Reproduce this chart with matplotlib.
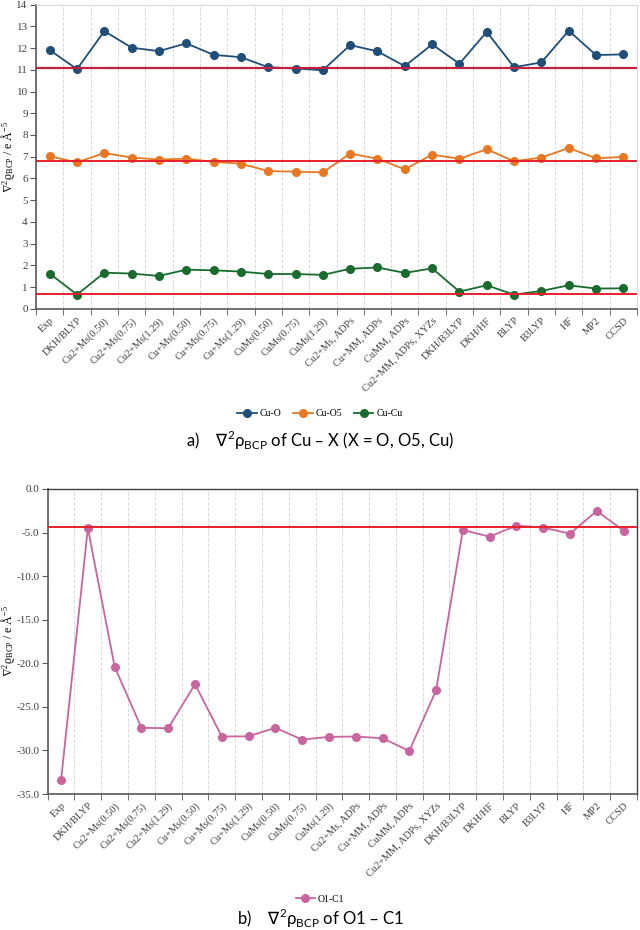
import numpy as np
import matplotlib.pyplot as plt

methods = ['Exp', 'DKH/BLYP', 'Cu2+Ms(0.50)', 'Cu2+Ms(0.75)', 'Cu2+Ms(1.29)',
           'Cu+Ms(0.50)', 'Cu+Ms(0.75)', 'Cu+Ms(1.29)', 'CuMs(0.50)', 'CuMs(0.75)',
           'CuMs(1.29)', 'Cu2+Ms, ADPs', 'Cu+MM, ADPs', 'CuMM, ADPs',
           'Cu2+MM, ADPs, XYZs', 'DKH/B3LYP', 'DKH/HF', 'BLYP', 'B3LYP', 'HF', 'MP2', 'CCSD']

cu_o = [11.91, 11.03, 12.78, 12.02, 11.86, 12.22, 11.69, 11.58, 11.12, 11.06, 10.98,
        12.14, 11.85, 11.17, 12.17, 11.28, 12.75, 11.12, 11.34, 12.80, 11.68, 11.71]
cu_o5 = [7.02, 6.74, 7.17, 6.96, 6.87, 6.91, 6.76, 6.68, 6.34, 6.31, 6.28,
         7.14, 6.91, 6.42, 7.09, 6.91, 7.34, 6.79, 6.96, 7.40, 6.93, 6.99]
cu_cu = [1.62, 0.65, 1.66, 1.62, 1.51, 1.80, 1.77, 1.71, 1.60, 1.60, 1.56,
         1.84, 1.90, 1.65, 1.86, 0.79, 1.08, 0.65, 0.82, 1.08, 0.93, 0.94]
o1_c1 = [-33.4, -4.5, -20.4, -27.4, -27.45, -22.4, -28.4, -28.38, -27.4, -28.75, -28.44,
         -28.4, -28.6, -30.05, -23.1, -4.7, -5.47, -4.2, -4.43, -5.12, -2.52, -4.78]

ref_top = [11.08, 6.80, 0.70]
ref_bottom = -4.36

blue = '#1f4e79'
orange = '#e87722'
green = '#1a6b2e'
pink = '#c8659f'
serif = ['Liberation Serif', 'DejaVu Serif']
sans = ['Lato', 'DejaVu Sans']
ylab = r'$\nabla^{\mathregular{2}}$ϱ$_{\mathregular{BCP}}$ / e Å$^{\mathregular{-5}}$'

fig = plt.figure(figsize=(6.4, 9.3), dpi=100)
x = np.arange(len(methods))


def style_axis(ax, ymin, ymax, step, fmt, box, labx):
    ax.set_xlim(-0.5, len(methods) - 0.5)
    ax.set_ylim(ymin, ymax)
    ax.set_yticks(np.arange(ymin, ymax + step / 2, step))
    ax.set_yticklabels([fmt % v for v in np.arange(ymin, ymax + step / 2, step)],
                       family=serif, fontsize=8, color='#404040')
    ax.set_xticks(x)
    ax.set_xticklabels(methods, rotation=45, ha='right', va='top',
                       rotation_mode='anchor', family=serif, fontsize=7.5, color='#404040')
    ax.set_xticks(np.arange(-0.5, len(methods)), minor=True)
    ax.tick_params(axis='x', which='major', length=0, pad=5)
    ax.tick_params(axis='x', which='minor', length=4, color='#595959', direction='out')
    ax.tick_params(axis='y', length=4, color='#595959', direction='out', pad=2)
    ax.grid(axis='x', which='minor', color='#d9d9d9', linestyle='--', linewidth=0.7)
    for s in ['left', 'bottom']:
        ax.spines[s].set_color('#595959')
        ax.spines[s].set_linewidth(1.2)
    for s in ['top', 'right']:
        ax.spines[s].set_color(box)
        ax.spines[s].set_linewidth(1.0 if box != '#d9d9d9' else 0.8)
    ax.set_ylabel(ylab, family=serif, fontsize=8.5, math_fontfamily='stix')
    ax.yaxis.set_label_coords(labx, 0.5)


# a) Cu - X
ax1 = fig.add_axes([0.0563, 0.668, 0.939, 0.327])
ax1.plot(x, cu_o, '-o', color=blue, lw=1.3, ms=5.5, label='Cu-O')
ax1.plot(x, cu_o5, '-o', color=orange, lw=1.3, ms=5.5, label='Cu-O5')
ax1.plot(x, cu_cu, '-o', color=green, lw=1.3, ms=5.5, label='Cu-Cu')
ax1.axhline(ref_top[0], color='#c0223f', lw=1.6, zorder=3)
ax1.axhline(ref_top[1], color='#e8202a', lw=1.4, zorder=3)
ax1.axhline(ref_top[2], color='#e8202a', lw=1.4, zorder=3)
style_axis(ax1, 0, 14, 1, '%d', '#d9d9d9', -0.031)
fig.legend(*ax1.get_legend_handles_labels(), loc='center', bbox_to_anchor=(0.5, 0.555),
           ncol=3, frameon=False, handlelength=2.0, columnspacing=1.2, handletextpad=0.3,
           prop={'family': serif, 'size': 7})
fig.text(0.5, 0.526, r'a)    $\nabla^{\mathregular{2}}$ρ$_{\mathregular{BCP}}$ of Cu – X (X = O, O5, Cu)',
         ha='center', va='center', family=sans, fontsize=12)

# b) O1 - C1
ax2 = fig.add_axes([0.0745, 0.1462, 0.9208, 0.328])
ax2.plot(x, o1_c1, '-o', color=pink, lw=1.3, ms=5.5, label='O1-C1')
ax2.axhline(ref_bottom, color='#e8202a', lw=1.4, zorder=3)
style_axis(ax2, -35, 0, 5, '%.1f', '#404040', -0.052)
fig.legend(*ax2.get_legend_handles_labels(), loc='center', bbox_to_anchor=(0.5, 0.0333),
           frameon=False, handlelength=2.0, handletextpad=0.3,
           prop={'family': serif, 'size': 7})
fig.text(0.5, 0.0125, r'b)    $\nabla^{\mathregular{2}}$ρ$_{\mathregular{BCP}}$ of O1 – C1',
         ha='center', va='center', family=sans, fontsize=12)

fig.savefig('out.png', dpi=100)
